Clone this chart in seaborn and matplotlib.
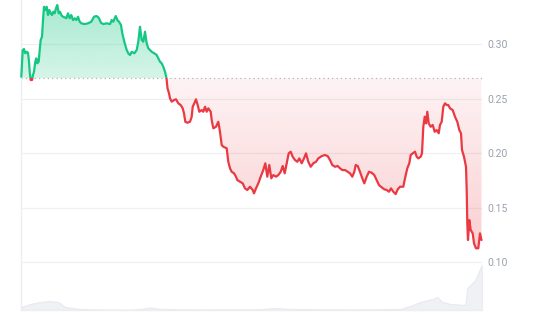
import numpy as np
import matplotlib
matplotlib.use("Agg")
import matplotlib.pyplot as plt
from matplotlib.patches import Rectangle
import seaborn as sns

# ---- data ----
hours = [0.0, 1.4, 2.7, 4.0, 5.4, 6.7, 7.7, 8.4, 9.4, 10.7, 11.7, 12.7, 14.0, 15.0, 16.0,
         17.4, 18.4, 19.4, 20.7, 21.7, 22.7, 24.0, 25.4, 26.7, 28.0, 29.4, 30.7, 32.0,
         33.4, 34.7, 36.0, 37.4, 38.7, 40.0, 41.7, 43.4, 45.0, 46.7, 48.4, 50.0, 51.7,
         53.4, 55.0, 56.7, 58.4, 60.0, 63.4, 66.7, 70.0, 72.7, 75.0, 76.7, 77.7, 79.7,
         82.0, 85.4, 88.7, 90.4, 92.0, 94.4, 96.4, 97.7, 99.7, 101.0, 103.0, 105.4,
         107.0, 108.7, 110.4, 113.0, 115.4, 117.0, 118.7, 120.4, 122.0, 123.7, 125.4,
         127.0, 128.7, 130.4, 133.0, 135.4, 137.0, 138.7, 140.4, 142.0, 143.7, 145.2,
         146.2, 147.7, 148.7, 150.4, 152.7, 154.7, 157.0, 159.4, 161.4, 162.7, 164.0,
         166.0, 168.7, 170.4, 171.4, 173.0, 174.7, 176.4, 178.0, 180.4, 182.0, 183.7,
         185.4, 187.0, 189.4, 190.4, 192.0, 194.7, 197.0, 198.7, 200.4, 202.0, 205.4,
         207.0, 208.7, 210.4, 212.7, 214.7, 216.0, 218.7, 221.4, 223.7, 226.0, 228.7,
         231.4, 232.7, 234.7, 237.0, 239.4, 242.0, 244.0, 246.0, 248.0, 250.0, 252.0,
         254.7, 257.0, 259.4, 261.4, 263.4, 265.4, 267.4, 269.4, 271.4, 273.7, 276.0,
         278.0, 280.4, 282.7, 284.7, 287.0, 289.4, 292.0, 294.7, 297.0, 300.4, 303.7,
         306.4, 308.7, 311.0, 313.7, 316.4, 318.7, 321.0, 323.7, 326.4, 328.7, 331.0,
         333.0, 334.4, 336.4, 338.7, 341.0, 343.0, 345.4, 347.7, 350.4, 353.0, 355.4,
         357.7, 360.4, 363.0, 365.4, 367.7, 369.7, 372.0, 374.4, 376.4, 378.7, 382.0,
         383.7, 386.0, 388.0, 389.4, 391.4, 393.7, 395.4, 397.0, 399.4, 400.7, 402.0,
         403.4, 404.7, 406.0, 407.4, 409.4, 411.4, 413.4, 415.4, 417.4, 418.7, 420.4,
         422.0, 423.7, 425.4, 427.0, 428.7, 431.4, 433.7, 436.0, 438.0, 439.7, 440.7,
         442.7, 444.7, 445.4, 446.0, 446.7, 448.0, 449.4, 451.4, 452.7, 454.7, 457.0,
         458.7, 460.2]
price = [0.2700, 0.2945, 0.2954, 0.2915, 0.2929, 0.2920, 0.2838, 0.2746, 0.2670, 0.2670,
         0.2716, 0.2746, 0.2838, 0.2869, 0.2823, 0.2838, 0.2945, 0.3037, 0.3067, 0.3220,
         0.3342, 0.3312, 0.3342, 0.3266, 0.3312, 0.3282, 0.3266, 0.3296, 0.3282, 0.3328,
         0.3358, 0.3282, 0.3296, 0.3266, 0.3250, 0.3245, 0.3236, 0.3282, 0.3236, 0.3266,
         0.3220, 0.3236, 0.3220, 0.3250, 0.3205, 0.3190, 0.3183, 0.3190, 0.3205, 0.3250,
         0.3257, 0.3248, 0.3236, 0.3195, 0.3183, 0.3190, 0.3183, 0.3220, 0.3205, 0.3257,
         0.3214, 0.3205, 0.3174, 0.3098, 0.3021, 0.2945, 0.2915, 0.2899, 0.2929, 0.2915,
         0.2945, 0.3021, 0.3159, 0.3037, 0.3021, 0.3113, 0.3006, 0.2961, 0.2945, 0.2929,
         0.2915, 0.2899, 0.2869, 0.2838, 0.2823, 0.2792, 0.2746, 0.2685, 0.2594, 0.2548,
         0.2502, 0.2471, 0.2486, 0.2493, 0.2456, 0.2440, 0.2410, 0.2364, 0.2287, 0.2278,
         0.2287, 0.2333, 0.2425, 0.2456, 0.2493, 0.2440, 0.2379, 0.2394, 0.2379, 0.2425,
         0.2379, 0.2410, 0.2379, 0.2303, 0.2227, 0.2241, 0.2287, 0.2195, 0.2073, 0.2058,
         0.2043, 0.1920, 0.1860, 0.1828, 0.1814, 0.1783, 0.1752, 0.1737, 0.1722, 0.1676,
         0.1661, 0.1691, 0.1661, 0.1630, 0.1676, 0.1722, 0.1783, 0.1844, 0.1906, 0.1783,
         0.1890, 0.1768, 0.1798, 0.1783, 0.1798, 0.1828, 0.1881, 0.1814, 0.1906, 0.1997,
         0.2012, 0.1966, 0.1936, 0.1920, 0.1951, 0.1906, 0.1951, 0.1997, 0.1920, 0.1874,
         0.1906, 0.1920, 0.1951, 0.1972, 0.1982, 0.1972, 0.1936, 0.1890, 0.1874, 0.1881,
         0.1860, 0.1844, 0.1844, 0.1828, 0.1814, 0.1783, 0.1828, 0.1890, 0.1881, 0.1828,
         0.1768, 0.1722, 0.1783, 0.1828, 0.1819, 0.1798, 0.1752, 0.1706, 0.1685, 0.1667,
         0.1661, 0.1645, 0.1676, 0.1645, 0.1624, 0.1667, 0.1691, 0.1691, 0.1768, 0.1860,
         0.1906, 0.1982, 0.1997, 0.2012, 0.1966, 0.1951, 0.1966, 0.1997, 0.2241, 0.2333,
         0.2272, 0.2379, 0.2272, 0.2241, 0.2257, 0.2195, 0.2211, 0.2181, 0.2257, 0.2287,
         0.2425, 0.2456, 0.2440, 0.2440, 0.2410, 0.2394, 0.2333, 0.2287, 0.2211, 0.2181,
         0.2028, 0.1966, 0.1874, 0.1661, 0.1355, 0.1202, 0.1385, 0.1294, 0.1263, 0.1172,
         0.1126, 0.1126, 0.1263, 0.1202]
baseline = 0.2688

vol_hours = [0, 9, 19, 29, 37, 44, 59, 79, 109, 119, 129, 139, 179, 239, 254, 269, 329,
             379, 389, 399, 411, 416, 421, 429, 444, 446, 454, 460.4]
volume = [3, 6, 8, 9, 8, 3, 1, 0.5, 0.3, 1, 2.5, 1, 0.5, 0.8, 2, 1, 0.5,
          1, 4, 8, 11, 13, 8, 6, 5, 22, 30, 45]

yticks = [0.10, 0.15, 0.20, 0.25, 0.30]
ytick_labels = ["0.10", "0.15", "0.20", "0.25", "0.30"]

GREEN = "#16c784"
RED = "#ea3943"

sns.set_style("white")
plt.rcParams["font.family"] = ["Roboto", "DejaVu Sans"]

fig = plt.figure(figsize=(5.4, 3.2), dpi=100)
ax = fig.add_axes([21.3 / 540, 10 / 320, 460.4 / 540, 310 / 320])
ymin, ymax = 0.056, 0.3404
xmin, xmax = 0.0, 460.4

# volume on twin axis (behind)
axv = ax.twinx()
axv.set_zorder(0)
ax.set_zorder(1)
ax.patch.set_visible(False)
axv.fill_between(vol_hours, volume, 0, color="#eff1f4", lw=0.8, edgecolor="#e7eaee")
axv.set_ylim(0, max(volume) * 310 / 45)
axv.set_yticks([])
for s in axv.spines.values():
    s.set_visible(False)

# grid
for t in yticks:
    ax.axhline(t, color="#eff0f2", lw=0.9, zorder=0)

# gradient fills
hx = np.array(hours, dtype=float)
py = np.array(price)
above = np.maximum(py, baseline)
below = np.minimum(py, baseline)

def grad_fill(y1, color, a_top, a_bot, ylo, yhi):
    poly = ax.fill_between(hx, y1, baseline, color="none", lw=0)
    n = 256
    rgb = matplotlib.colors.to_rgb(color)
    img = np.zeros((n, 1, 4))
    img[..., 0], img[..., 1], img[..., 2] = rgb
    img[:, 0, 3] = np.linspace(a_top, a_bot, n)
    im = ax.imshow(img, extent=[xmin, xmax, ylo, yhi], aspect="auto",
                   origin="upper", zorder=1, interpolation="bilinear")
    path = poly.get_paths()[0]
    im.set_clip_path(path, transform=ax.transData)

grad_fill(above, GREEN, 0.38, 0.18, baseline, 0.337)
grad_fill(below, RED, 0.06, 0.24, 0.112, baseline)

# baseline dotted
ax.axhline(baseline, color="#b0b4bb", lw=0.9, ls=(0, (1, 2.5)), zorder=2)

# price line, split colour at baseline
sns.lineplot(x=hours, y=price, ax=ax, color=RED, lw=1.6, estimator=None, sort=False)
line_red = ax.lines[-1]
sns.lineplot(x=hours, y=price, ax=ax, color=GREEN, lw=1.6, estimator=None, sort=False)
line_green = ax.lines[-1]
clip_up = Rectangle((xmin - 10, baseline), xmax - xmin + 20, 1, transform=ax.transData)
clip_dn = Rectangle((xmin - 10, -1), xmax - xmin + 20, 1 + baseline, transform=ax.transData)
line_green.set_clip_path(clip_up)
line_red.set_clip_path(clip_dn)
for ln in (line_red, line_green):
    ln.set_zorder(3)
    ln.set_solid_joinstyle("round")

ax.set_xlim(xmin, xmax)
ax.set_ylim(ymin, ymax)
ax.yaxis.tick_right()
ax.set_yticks(yticks)
ax.set_yticklabels(ytick_labels)
ax.tick_params(axis="y", length=0, pad=4, labelsize=7.5, labelcolor="#9aa1ad")
ax.set_xticks([])
ax.set_xlabel("")
ax.set_ylabel("")
for k, s in ax.spines.items():
    s.set_visible(k in ("left", "bottom"))
    s.set_color("#eceef1")
    s.set_linewidth(1.0)

fig.savefig("out.png", dpi=100)
